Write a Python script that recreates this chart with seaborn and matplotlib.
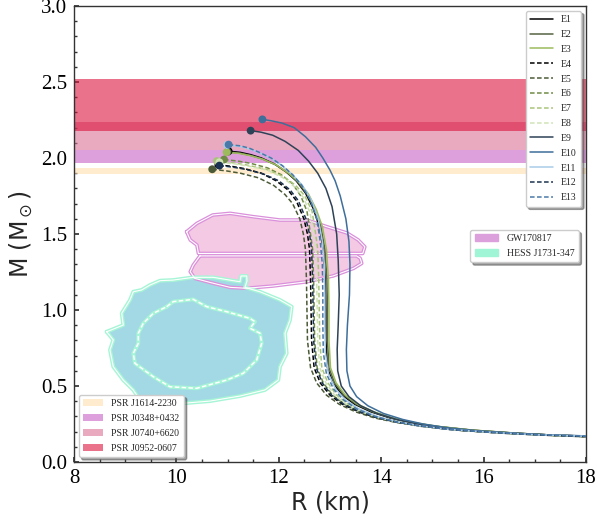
import numpy as np
import pandas as pd
import matplotlib
matplotlib.use("Agg")
import matplotlib.pyplot as plt
from matplotlib.lines import Line2D
from matplotlib.patches import Patch
import seaborn as sns

# ---------------------------------------------------------------------------
# Mass-radius relations (R in km, M in solar masses), first point = maximum mass
# ---------------------------------------------------------------------------
eos_names = ["E1", "E2", "E3", "E4", "E5", "E6", "E7", "E8", "E9", "E10", "E11", "E12", "E13"]

E1_M = [2.045, 2.037, 2.022, 2.0, 1.96, 1.91, 1.85, 1.77, 1.67, 1.55, 1.40, 1.20, 1.00, 0.80, 0.62, 0.52, 0.44, 0.38, 0.33, 0.29, 0.26, 0.235, 0.21, 0.19, 0.178, 0.17]
E1_R = [11.02, 11.25, 11.45, 11.66, 11.92, 12.14, 12.34, 12.52, 12.67, 12.79, 12.87, 12.91, 12.92, 12.92, 12.95, 13.06, 13.24, 13.48, 13.8, 14.17, 14.58, 15.05, 15.75, 16.6, 17.3, 18.0]

E2_M = [2.04, 2.032, 2.017, 1.995, 1.955, 1.905, 1.845, 1.765, 1.665, 1.55, 1.40, 1.20, 1.00, 0.80, 0.62, 0.52, 0.44, 0.38, 0.33, 0.29, 0.26, 0.235, 0.21, 0.19, 0.178, 0.17]
E2_R = [11.00, 11.24, 11.45, 11.67, 11.94, 12.16, 12.36, 12.55, 12.70, 12.82, 12.90, 12.94, 12.95, 12.95, 12.98, 13.09, 13.27, 13.51, 13.83, 14.2, 14.6, 15.07, 15.77, 16.62, 17.3, 18.0]

E3_M = [2.038, 2.03, 2.015, 1.993, 1.953, 1.903, 1.843, 1.763, 1.663, 1.55, 1.40, 1.20, 1.00, 0.80, 0.62, 0.52, 0.44, 0.38, 0.33, 0.29, 0.26, 0.235, 0.21, 0.19, 0.178, 0.17]
E3_R = [10.98, 11.23, 11.45, 11.68, 11.96, 12.18, 12.39, 12.58, 12.73, 12.85, 12.93, 12.97, 12.98, 12.98, 13.01, 13.12, 13.30, 13.54, 13.86, 14.22, 14.62, 15.09, 15.79, 16.64, 17.3, 18.0]

E4_M = [1.955, 1.945, 1.93, 1.90, 1.85, 1.79, 1.72, 1.60, 1.50, 1.40, 1.20, 1.00, 0.80, 0.62, 0.52, 0.44, 0.38, 0.33, 0.29, 0.26, 0.235, 0.21, 0.19, 0.177, 0.167]
E4_R = [10.82, 11.08, 11.33, 11.66, 11.95, 12.18, 12.34, 12.49, 12.56, 12.60, 12.62, 12.63, 12.64, 12.69, 12.81, 13.0, 13.24, 13.56, 13.92, 14.34, 14.8, 15.47, 16.37, 17.17, 18.0]

E5_M = [1.926, 1.915, 1.90, 1.87, 1.82, 1.76, 1.70, 1.60, 1.50, 1.40, 1.20, 1.00, 0.80, 0.62, 0.52, 0.44, 0.38, 0.33, 0.29, 0.26, 0.235, 0.21, 0.19, 0.177, 0.166]
E5_R = [10.70, 10.98, 11.25, 11.60, 11.90, 12.12, 12.27, 12.41, 12.48, 12.52, 12.54, 12.55, 12.56, 12.62, 12.74, 12.93, 13.18, 13.50, 13.87, 14.3, 14.77, 15.45, 16.35, 17.15, 18.0]

E6_M = [1.99, 1.98, 1.965, 1.935, 1.89, 1.83, 1.75, 1.65, 1.50, 1.40, 1.20, 1.00, 0.80, 0.62, 0.52, 0.44, 0.38, 0.33, 0.29, 0.26, 0.235, 0.21, 0.19, 0.177, 0.167]
E6_R = [10.93, 11.20, 11.45, 11.78, 12.05, 12.27, 12.43, 12.55, 12.62, 12.66, 12.68, 12.69, 12.70, 12.75, 12.87, 13.05, 13.29, 13.6, 13.95, 14.36, 14.82, 15.48, 16.38, 17.17, 18.0]

E7_M = [1.98, 1.97, 1.955, 1.925, 1.88, 1.82, 1.75, 1.65, 1.50, 1.40, 1.20, 1.00, 0.80, 0.62, 0.52, 0.44, 0.38, 0.33, 0.29, 0.26, 0.235, 0.21, 0.19, 0.177, 0.168]
E7_R = [10.79, 11.08, 11.36, 11.76, 12.08, 12.33, 12.51, 12.65, 12.72, 12.76, 12.78, 12.79, 12.80, 12.84, 12.96, 13.13, 13.36, 13.66, 14.0, 14.4, 14.86, 15.52, 16.42, 17.2, 18.0]

E8_M = [1.972, 1.962, 1.947, 1.92, 1.87, 1.81, 1.74, 1.64, 1.50, 1.40, 1.20, 1.00, 0.80, 0.62, 0.52, 0.44, 0.38, 0.33, 0.29, 0.26, 0.235, 0.21, 0.19, 0.177, 0.168]
E8_R = [10.84, 11.12, 11.40, 11.78, 12.08, 12.31, 12.48, 12.61, 12.68, 12.72, 12.74, 12.75, 12.76, 12.80, 12.92, 13.09, 13.32, 13.62, 13.97, 14.38, 14.84, 15.5, 16.4, 17.18, 18.0]

E9_M = [2.18, 2.17, 2.15, 2.11, 2.05, 1.98, 1.90, 1.80, 1.68, 1.5, 1.33, 1.1, 0.9, 0.74, 0.6, 0.5, 0.43, 0.37, 0.32, 0.28, 0.25, 0.225, 0.205, 0.19, 0.178, 0.171]
E9_R = [11.45, 11.65, 11.88, 12.12, 12.38, 12.58, 12.76, 12.92, 13.04, 13.13, 13.16, 13.18, 13.16, 13.14, 13.15, 13.22, 13.37, 13.6, 13.92, 14.3, 14.72, 15.22, 15.85, 16.55, 17.3, 18.0]

E10_M = [2.254, 2.245, 2.23, 2.20, 2.14, 2.07, 2.0, 1.92, 1.85, 1.75, 1.6, 1.45, 1.3, 1.1, 0.9, 0.74, 0.6, 0.5, 0.43, 0.37, 0.32, 0.28, 0.25, 0.225, 0.205, 0.19, 0.178, 0.172]
E10_R = [11.68, 11.85, 12.06, 12.30, 12.52, 12.72, 12.86, 13.0, 13.1, 13.2, 13.31, 13.37, 13.39, 13.38, 13.34, 13.32, 13.33, 13.39, 13.52, 13.74, 14.04, 14.42, 14.82, 15.3, 15.9, 16.6, 17.3, 18.0]

E11_M = [2.085, 2.077, 2.062, 2.037, 2.0, 1.95, 1.89, 1.82, 1.72, 1.60, 1.45, 1.30, 1.10, 0.90, 0.72, 0.58, 0.48, 0.41, 0.35, 0.30, 0.265, 0.24, 0.215, 0.195, 0.18, 0.17]
E11_R = [10.99, 11.22, 11.40, 11.60, 11.84, 12.06, 12.27, 12.46, 12.64, 12.77, 12.85, 12.89, 12.90, 12.90, 12.91, 12.97, 13.11, 13.3, 13.56, 13.92, 14.31, 14.72, 15.32, 16.17, 17.0, 18.0]

E12_M = [1.95, 1.94, 1.925, 1.895, 1.85, 1.79, 1.72, 1.60, 1.50, 1.40, 1.20, 1.00, 0.80, 0.62, 0.52, 0.44, 0.38, 0.33, 0.29, 0.26, 0.235, 0.21, 0.19, 0.177, 0.167]
E12_R = [10.84, 11.10, 11.36, 11.70, 12.0, 12.22, 12.38, 12.53, 12.60, 12.64, 12.66, 12.67, 12.68, 12.73, 12.85, 13.03, 13.27, 13.58, 13.94, 14.35, 14.81, 15.48, 16.38, 17.17, 18.0]

E13_M = [2.088, 2.08, 2.065, 2.04, 2.0, 1.95, 1.89, 1.82, 1.72, 1.60, 1.45, 1.30, 1.10, 0.90, 0.72, 0.58, 0.48, 0.41, 0.35, 0.30, 0.265, 0.24, 0.215, 0.195, 0.18, 0.17]
E13_R = [11.02, 11.25, 11.42, 11.60, 11.85, 12.07, 12.27, 12.45, 12.62, 12.74, 12.81, 12.85, 12.86, 12.86, 12.87, 12.93, 13.07, 13.26, 13.52, 13.88, 14.28, 14.7, 15.3, 16.15, 17.0, 18.0]

eos_colors = ["#000000", "#556343", "#9dbb5c", "#000000", "#4b5a36", "#6f8a45", "#a9c47a",
              "#d2e3b8", "#2e4257", "#3e6e9a", "#a9cbe8", "#1b3350", "#4a79a8"]
eos_dashed = [False, False, False, True, True, True, True, True, False, False, False, True, True]

# Pulsar mass measurements: (lower, upper) bounds
psr_names = ["PSR J1614-2230", "PSR J0348+0432", "PSR J0740+6620", "PSR J0952-0607"]
psr_low = [1.892, 1.97, 2.05, 2.18]
psr_high = [1.932, 2.05, 2.24, 2.52]
psr_colors = ["navajowhite", "plum", "palevioletred", "crimson"]
psr_alpha = [0.6, 1.0, 0.6, 0.6]

# GW170817 credible regions (two components)
gw_upper_R = [10.20, 10.40, 10.71, 11.05, 11.50, 12.02, 12.55, 12.94, 13.33, 13.55, 13.68, 13.64, 13.0, 12.0, 11.0, 10.43, 10.40, 10.27]
gw_upper_M = [1.515, 1.570, 1.625, 1.636, 1.614, 1.592, 1.592, 1.548, 1.507, 1.461, 1.416, 1.372, 1.372, 1.372, 1.372, 1.372, 1.428, 1.461]
gw_lower_R = [10.46, 10.33, 10.27, 10.36, 10.72, 11.05, 11.37, 11.89, 12.55, 13.06, 13.46, 13.62, 13.59, 13.52, 12.5, 11.5]
gw_lower_M = [1.356, 1.296, 1.252, 1.208, 1.176, 1.149, 1.143, 1.158, 1.186, 1.224, 1.274, 1.307, 1.340, 1.356, 1.356, 1.356]

# HESS J1731-347 credible regions (outer and inner)
hess_outer_R = [8.639, 8.963, 8.932, 9.094, 9.158, 9.322, 9.484, 9.680, 9.939, 10.330, 10.721, 11.111, 11.242, 11.262,
                11.373, 11.379, 11.340, 11.633, 12.023, 12.252, 12.219, 12.121, 12.154, 12.023, 11.990, 11.730,
                11.242, 10.656, 9.973, 9.484, 9.289, 9.158, 8.963, 8.768, 8.703, 8.768]
hess_outer_M = [0.857, 0.901, 0.978, 1.066, 1.120, 1.132, 1.164, 1.193, 1.197, 1.215, 1.215, 1.193, 1.186, 1.224,
                1.224, 1.191, 1.149, 1.120, 1.066, 1.022, 0.934, 0.847, 0.715, 0.627, 0.539, 0.474,
                0.434, 0.401, 0.382, 0.388, 0.408, 0.474, 0.539, 0.627, 0.737, 0.803]
hess_inner_R = [9.811, 9.939, 10.330, 10.592, 10.982, 11.438, 11.535, 11.438, 11.633, 11.666, 11.568, 11.307,
                10.982, 10.396, 9.875, 9.549, 9.191, 9.158, 9.256, 9.256, 9.354, 9.549]
hess_inner_M = [1.022, 1.055, 1.070, 1.022, 0.989, 0.945, 0.923, 0.880, 0.847, 0.781, 0.671, 0.584,
                0.539, 0.485, 0.495, 0.561, 0.649, 0.715, 0.781, 0.847, 0.913, 0.978]

# ---------------------------------------------------------------------------
sns.set_theme(style="ticks")
plt.rcParams.update({
    "font.family": "serif",
    "font.serif": ["Liberation Serif", "DejaVu Serif"],
    "mathtext.fontset": "dejavusans",
    "xtick.direction": "in",
    "ytick.direction": "in",
    "xtick.major.size": 3.5,
    "ytick.major.size": 3.5,
    "xtick.minor.size": 2.0,
    "ytick.minor.size": 2.0,
    "xtick.color": "#333333",
    "ytick.color": "#333333",
    "xtick.labelcolor": "black",
    "ytick.labelcolor": "black",
    "axes.edgecolor": "#333333",
})

fig, ax = plt.subplots(figsize=(5.98, 5.21), dpi=100)
fig.subplots_adjust(left=0.1237, right=0.98, bottom=0.1132, top=0.9885)

# Pulsar mass bands
for name, lo, hi, col, al in zip(psr_names, psr_low, psr_high, psr_colors, psr_alpha):
    ax.axhspan(lo, hi, color=col, alpha=al, lw=0, zorder=1, label=name)

# GW170817 regions
for rr, mm in [(gw_upper_R, gw_upper_M), (gw_lower_R, gw_lower_M)]:
    ax.fill(rr, mm, facecolor="#f4c9e4", edgecolor="none", zorder=2)
    ax.plot(rr + rr[:1], mm + mm[:1], color="#da90da", lw=2.6, zorder=2.1, solid_joinstyle="round")
    ax.plot(rr + rr[:1], mm + mm[:1], color="white", lw=0.8, zorder=2.2)

# HESS J1731-347 regions
ax.fill(hess_outer_R, hess_outer_M, facecolor="#a3d9e5", edgecolor="none", zorder=2)
ax.plot(hess_outer_R + hess_outer_R[:1], hess_outer_M + hess_outer_M[:1], color="#a6f5d6", lw=2.8, zorder=2.1,
        solid_joinstyle="round")
ax.plot(hess_outer_R + hess_outer_R[:1], hess_outer_M + hess_outer_M[:1], color="white", lw=0.8, zorder=2.2)
ax.plot(hess_inner_R + hess_inner_R[:1], hess_inner_M + hess_inner_M[:1], color="#a6f5d6", lw=2.8, zorder=2.1,
        solid_joinstyle="round")
ax.plot(hess_inner_R + hess_inner_R[:1], hess_inner_M + hess_inner_M[:1], color="white", lw=1.1, zorder=2.2,
        linestyle=(0, (3, 1.5)))

# Mass-radius curves
curve_R = [E1_R, E2_R, E3_R, E4_R, E5_R, E6_R, E7_R, E8_R, E9_R, E10_R, E11_R, E12_R, E13_R]
curve_M = [E1_M, E2_M, E3_M, E4_M, E5_M, E6_M, E7_M, E8_M, E9_M, E10_M, E11_M, E12_M, E13_M]
frames = []
for name, rr, mm in zip(eos_names, curve_R, curve_M):
    frames.append(pd.DataFrame({"R": rr, "M": mm, "EOS": name}))
mr = pd.concat(frames, ignore_index=True)
palette = dict(zip(eos_names, eos_colors))
dash_pattern = (3.0, 1.6)
dashes = {n: (dash_pattern if d else "") for n, d in zip(eos_names, eos_dashed)}

sns.lineplot(data=mr, x="R", y="M", hue="EOS", style="EOS", palette=palette, dashes=dashes,
             sort=False, estimator=None, units="EOS", lw=1.1, legend=False, ax=ax, zorder=3)

tops = pd.DataFrame({"R": [r[0] for r in curve_R], "M": [m[0] for m in curve_M], "EOS": eos_names})
sns.scatterplot(data=tops, x="R", y="M", hue="EOS", palette=palette, s=32, linewidth=0,
                legend=False, ax=ax, zorder=4)

ax.set_xlim(8, 18)
ax.set_ylim(0, 3.0)
ax.set_xticks([8, 10, 12, 14, 16, 18])
ax.set_yticks([0.0, 0.5, 1.0, 1.5, 2.0, 2.5, 3.0])
ax.set_xticks(np.arange(8, 18.01, 0.5), minor=True)
ax.set_yticks(np.arange(0, 3.001, 0.1), minor=True)
ax.tick_params(axis="both", which="major", labelsize=15, pad=5)
ax.tick_params(top=False, right=False, which="both")
for sp in ax.spines.values():
    sp.set_linewidth(1.0)

ax.set_xlabel("R (km)", family="DejaVu Sans", fontsize=17, labelpad=2)
ax.set_ylabel(r"M (M$_\odot$)", family="DejaVu Sans", fontsize=17, labelpad=4)

legend_kw = dict(frameon=True, fancybox=True, shadow=True, framealpha=1, edgecolor="#cccccc",
                 prop={"family": "Liberation Serif", "size": 7.0}, labelspacing=0.6, borderpad=0.45)

# EOS legend
eos_handles = [Line2D([0], [0], color=c, lw=1.1, linestyle=((0, dash_pattern) if d else "-"))
               for c, d in zip(eos_colors, eos_dashed)]
leg1 = ax.legend(eos_handles, eos_names, loc="upper right", handlelength=2.4, handletextpad=0.8, **legend_kw)
ax.add_artist(leg1)

# Observational contour legend
obs_handles = [Patch(facecolor="#dca0dc", edgecolor="#dca0dc"), Patch(facecolor="#a0f5d6", edgecolor="#a0f5d6")]
leg2 = ax.legend(obs_handles, ["GW170817", "HESS J1731-347"], loc="upper right",
                 bbox_to_anchor=(0.995, 0.52), handlelength=2.4, handletextpad=0.9, **legend_kw)
ax.add_artist(leg2)

# Pulsar legend
psr_handles = [Patch(facecolor=c, alpha=a, edgecolor="none") for c, a in zip(psr_colors, psr_alpha)]
ax.legend(psr_handles, psr_names, loc="lower left", handlelength=2.0, handletextpad=0.9, **legend_kw)

fig.savefig("out.png", dpi=100)
